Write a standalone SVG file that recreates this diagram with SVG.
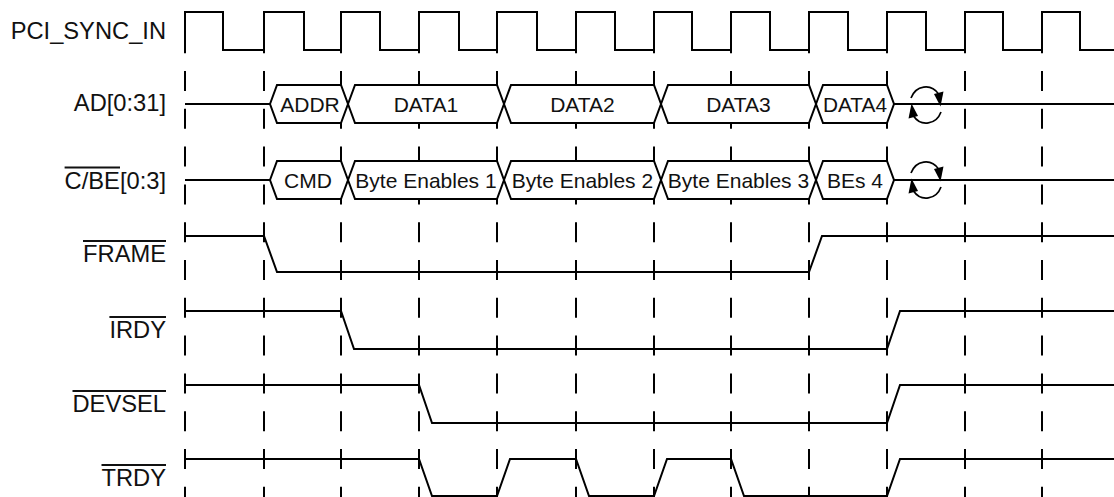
<svg xmlns="http://www.w3.org/2000/svg" width="1114" height="497" viewBox="0 0 1114 497">
<defs>
<style>
.lbl{font-family:"Liberation Sans",Arial,Helvetica,sans-serif;font-size:23.7px;fill:#111;text-anchor:end}
.bt{font-family:"Liberation Sans",Arial,Helvetica,sans-serif;font-size:21px;fill:#111;text-anchor:middle}
.w{fill:none;stroke:#000;stroke-width:2;stroke-linejoin:miter}
.hex{fill:#fff;stroke:#000;stroke-width:2;stroke-linejoin:miter}
.grid{fill:none;stroke:#000;stroke-width:2;stroke-dasharray:20 17.8}
.ob{stroke:#111;stroke-width:1.8}
.arc{fill:none;stroke:#000;stroke-width:1.7}
</style>
<g id="turnaround">
<path class="arc" d="M-15,-7 A16 18 0 0 1 12.5,-11"/>
<polygon points="14.5,1.5 8,-11 17.5,-13.5"/>
<path class="arc" d="M15,7 A16 18 0 0 1 -12.5,11"/>
<polygon points="-14.5,-1.5 -8,11 -17.5,13.5"/>
</g>
</defs>
<rect width="1114" height="497" fill="#fff"/>

<g id="connectors">
<path class="grid" d="M185,33.2V497M264,33.2V497M341,33.2V497M419,33.2V497M497,33.2V497M576,33.2V497M654,33.2V497M731,33.2V497M809,33.2V497M887,33.2V497M965,33.2V497M1042,33.2V497"/>
</g>

<g id="pci_sync_in">
<text class="lbl" x="166" y="39">PCI_SYNC_IN</text>
<path class="w" d="M185,50V12H223V50H264V12H304V50H341V12H380V50H419V12H459V50H497V12H537V50H576V12H615V50H654V12H692V50H731V12H770V50H809V12H848V50H887V12H926V50H965V12H1003V50H1042V12H1080V50H1114"/>
</g>

<g id="ad">
<text class="lbl" x="166" y="111">AD[0:31]</text>
<path class="w" d="M185,104H270M894,104H1114"/>
<path class="hex" d="M270,104L277,85H341L348,104L341,123H277Z"/>
<path class="hex" d="M348,104L355,85H497L504,104L497,123H355Z"/>
<path class="hex" d="M504,104L511,85H654L661,104L654,123H511Z"/>
<path class="hex" d="M661,104L668,85H809L816,104L809,123H668Z"/>
<path class="hex" d="M816,104L823,85H887L894,104L887,123H823Z"/>
<text class="bt" x="310" y="112">ADDR</text>
<text class="bt" x="426" y="112">DATA1</text>
<text class="bt" x="582.5" y="112">DATA2</text>
<text class="bt" x="738.5" y="112">DATA3</text>
<text class="bt" x="855" y="112" textLength="64" lengthAdjust="spacingAndGlyphs">DATA4</text>
<use href="#turnaround" x="926" y="105"/>
</g>

<g id="cbe">
<text class="lbl" x="166" y="189">C/BE[0:3]</text>
<line class="ob" x1="64.6" y1="167.5" x2="120" y2="167.5"/>
<path class="w" d="M185,180H270M894,180H1114"/>
<path class="hex" d="M270,180L277,161H341L348,180L341,199H277Z"/>
<path class="hex" d="M348,180L355,161H497L504,180L497,199H355Z"/>
<path class="hex" d="M504,180L511,161H654L661,180L654,199H511Z"/>
<path class="hex" d="M661,180L668,161H809L816,180L809,199H668Z"/>
<path class="hex" d="M816,180L823,161H887L894,180L887,199H823Z"/>
<text class="bt" x="308" y="188">CMD</text>
<text class="bt" x="426" y="188">Byte Enables 1</text>
<text class="bt" x="582.5" y="188">Byte Enables 2</text>
<text class="bt" x="738.5" y="188">Byte Enables 3</text>
<text class="bt" x="855" y="188">BEs 4</text>
<use href="#turnaround" x="926" y="180"/>
</g>

<g id="frame">
<text class="lbl" x="166" y="262">FRAME</text>
<line class="ob" x1="83" y1="241" x2="166" y2="241"/>
<path class="w" d="M185,236H264L277,272H809L822,236H1114"/>
</g>

<g id="irdy">
<text class="lbl" x="166" y="338">IRDY</text>
<line class="ob" x1="109.4" y1="317" x2="166" y2="317"/>
<path class="w" d="M185,311H341L354,349H887L900,311H1114"/>
</g>

<g id="devsel">
<text class="lbl" x="166" y="412">DEVSEL</text>
<line class="ob" x1="72.5" y1="391" x2="166" y2="391"/>
<path class="w" d="M185,385H419L432,423H887L900,385H1114"/>
</g>

<g id="trdy">
<text class="lbl" x="166" y="486">TRDY</text>
<line class="ob" x1="101.5" y1="465" x2="166" y2="465"/>
<path class="w" d="M185,459H419L432,496H497L510,459H576L589,496H654L667,459H731L744,496H887L900,459H1114"/>
</g>
</svg>
